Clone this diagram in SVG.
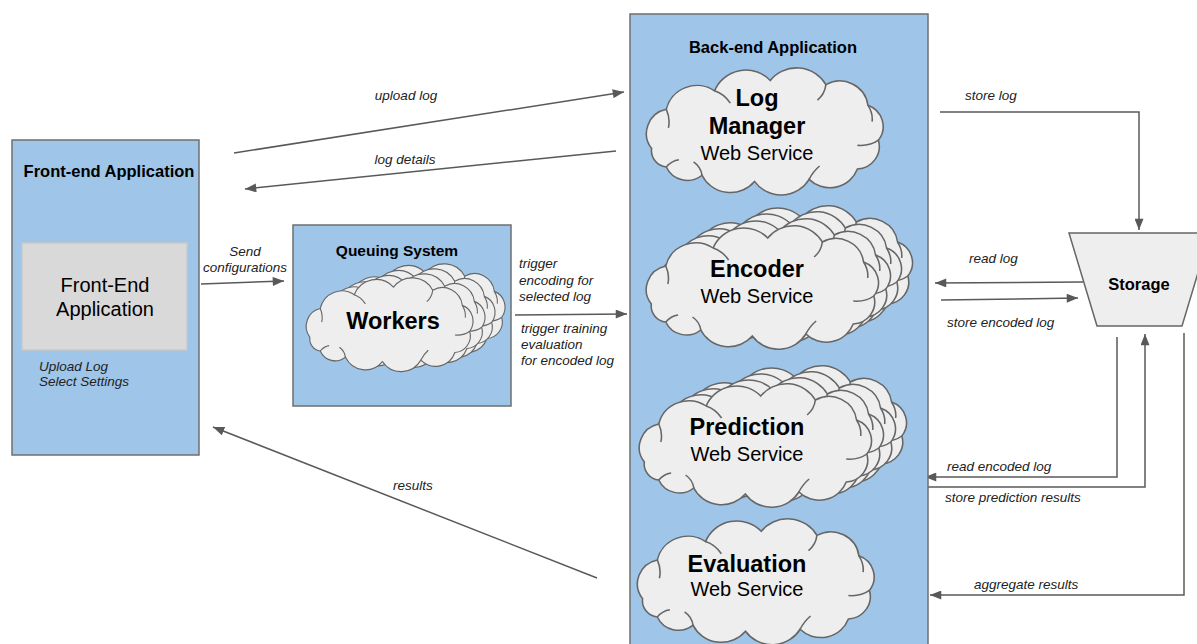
<svg xmlns="http://www.w3.org/2000/svg" xmlns:xlink="http://www.w3.org/1999/xlink" width="1197" height="644" viewBox="0 0 1197 644">
  <style>
    .box { fill: #9fc5e8; stroke: #6f6f6f; stroke-width: 1.5; }
    .inner { fill: #d9d9d9; stroke: #c8c8c8; stroke-width: 1.5; }
    .cloud { fill: #eeeeee; stroke: #666666; stroke-width: 1.5; }
    .cloudline { fill: none; stroke: #666666; stroke-width: 1.5; }
    .store { fill: #eeeeee; stroke: #666666; stroke-width: 1.5; }
    .conn { fill: none; stroke: #595959; stroke-width: 1.5; marker-end: url(#ah); }
    .title { font-family: "Liberation Sans", Arial, sans-serif; font-weight: bold; font-size: 16.5px; fill: #000; text-anchor: middle; }
    .big { font-family: "Liberation Sans", Arial, sans-serif; font-weight: bold; font-size: 23.5px; fill: #000; text-anchor: middle; }
    .sub { font-family: "Liberation Sans", Arial, sans-serif; font-size: 20px; fill: #000; text-anchor: middle; }
    .lbl { font-family: "Liberation Sans", Arial, sans-serif; font-style: italic; font-size: 13.5px; fill: #222; }
  </style>
  <defs>
    <marker id="ah" viewBox="0 0 10 8" refX="10" refY="4" markerWidth="12" markerHeight="9" markerUnits="userSpaceOnUse" orient="auto">
      <path d="M0,0 L10,4 L0,8 z" fill="#595959"/>
    </marker>
    <!-- cloud outline in a 240x125 box -->
    <g id="cloud">
      <path class="cloud" d="M12,82 A24,24 0 0 1 26,44 A30,30 0 0 1 72,26 A32,32 0 0 1 125,16 A32,32 0 0 1 178,20 A27,27 0 0 1 218,40 A22,22 0 0 1 228,74 A22,22 0 0 1 208,102 A28,28 0 0 1 162,112 A31,31 0 0 1 110,114 A30,30 0 0 1 60,108 A22,22 0 0 1 26,100 A16,16 0 0 1 12,82 Z"/>
      <path class="cloudline" d="M26,44 Q30,53 28,62 M72,26 Q81,29 87,38 M178,20 Q177,29 170,35 M218,40 Q223,48 222,56 M228,74 Q220,80 208,79 M162,112 Q166,104 172,99 M60,108 Q59,100 52,95 M26,100 Q31,94 38,93"/>
    </g>
  </defs>

  <!-- connectors -->
  <g id="connectors">
    <path class="conn" d="M234,153 L624,92"/>
    <path class="conn" d="M616,151 L245,189"/>
    <path class="conn" d="M201,284 L284,281"/>
    <path class="conn" d="M515,315 L627,314"/>
    <path class="conn" d="M597,578 L213,427"/>
    <path class="conn" d="M940,112 L1139,112 L1139,230"/>
    <path class="conn" d="M1083,282 L935,283"/>
    <path class="conn" d="M941,300 L1078,298"/>
    <path class="conn" d="M1117,337 L1117,477 L925,477"/>
    <path class="conn" d="M924,487 L1145,487 L1145,334"/>
    <path class="conn" d="M1184,333 L1184,595 L930,595"/>
  </g>

  <!-- front-end application -->
  <g id="frontend">
    <rect class="box" x="12" y="140" width="187" height="315"/>
    <text class="title" x="109" y="177">Front-end Application</text>
    <rect class="inner" x="22" y="243" width="165" height="107"/>
    <text class="sub" x="105" y="292">Front-End</text>
    <text class="sub" x="105" y="316">Application</text>
    <text class="lbl" x="39" y="371">Upload Log</text>
    <text class="lbl" x="39" y="386">Select Settings</text>
  </g>

  <!-- queuing system with worker pool -->
  <g id="queue">
    <rect class="box" x="293" y="225" width="218" height="181"/>
    <text class="title" x="397" y="256" style="font-size:15.5px">Queuing System</text>
    <use xlink:href="#cloud" transform="translate(333,261) scale(0.74,0.76)"/>
    <use xlink:href="#cloud" transform="translate(323,266) scale(0.74,0.76)"/>
    <use xlink:href="#cloud" transform="translate(313,271) scale(0.74,0.76)"/>
    <use xlink:href="#cloud" transform="translate(301,275) scale(0.74,0.76)"/>
    <text class="big" x="393" y="329">Workers</text>
  </g>

  <!-- back-end application -->
  <g id="backend">
    <rect class="box" x="630" y="14" width="298" height="640"/>
    <text class="title" x="773" y="53">Back-end Application</text>
  </g>

  <g id="logmanager">
    <use xlink:href="#cloud" transform="translate(639,64) scale(1.05,1.03)"/>
    <text class="big" x="757" y="106">Log</text>
    <text class="big" x="757" y="134">Manager</text>
    <text class="sub" x="757" y="160">Web Service</text>
  </g>

  <g id="encoder">
    <use xlink:href="#cloud" transform="translate(673,202) scale(1.03,1)"/>
    <use xlink:href="#cloud" transform="translate(662,208) scale(1.03,1)"/>
    <use xlink:href="#cloud" transform="translate(651,215) scale(1.03,1)"/>
    <use xlink:href="#cloud" transform="translate(639,222) scale(1.03,1)"/>
    <text class="big" x="757" y="277">Encoder</text>
    <text class="sub" x="757" y="303">Web Service</text>
  </g>

  <g id="prediction">
    <use xlink:href="#cloud" transform="translate(667,362) scale(1.03,1)"/>
    <use xlink:href="#cloud" transform="translate(656,368) scale(1.03,1)"/>
    <use xlink:href="#cloud" transform="translate(644,374) scale(1.03,1)"/>
    <use xlink:href="#cloud" transform="translate(632,380) scale(1.03,1)"/>
    <text class="big" x="747" y="435">Prediction</text>
    <text class="sub" x="747" y="461">Web Service</text>
  </g>

  <g id="evaluation">
    <use xlink:href="#cloud" transform="translate(630,515) scale(1.05,1.02)"/>
    <text class="big" x="747" y="572">Evaluation</text>
    <text class="sub" x="747" y="596">Web Service</text>
  </g>

  <!-- storage -->
  <g id="storage">
    <path class="store" d="M1069,233 L1210,233 L1182,326 L1097,326 Z"/>
    <text class="title" x="1139" y="290">Storage</text>
  </g>

  <!-- connector labels -->
  <g id="labels">
    <text class="lbl" x="406" y="100" text-anchor="middle">upload log</text>
    <text class="lbl" x="405" y="164" text-anchor="middle">log details</text>
    <text class="lbl" x="245" y="256" text-anchor="middle">Send</text>
    <text class="lbl" x="245" y="272" text-anchor="middle">configurations</text>
    <text class="lbl" x="519" y="268">trigger</text>
    <text class="lbl" x="519" y="285">encoding for</text>
    <text class="lbl" x="519" y="301">selected log</text>
    <text class="lbl" x="521" y="333">trigger training</text>
    <text class="lbl" x="521" y="349">evaluation</text>
    <text class="lbl" x="521" y="365">for encoded log</text>
    <text class="lbl" x="413" y="490" text-anchor="middle">results</text>
    <text class="lbl" x="965" y="100">store log</text>
    <text class="lbl" x="969" y="263">read log</text>
    <text class="lbl" x="947" y="327">store encoded log</text>
    <text class="lbl" x="947" y="471">read encoded log</text>
    <text class="lbl" x="945" y="502">store prediction results</text>
    <text class="lbl" x="974" y="589">aggregate results</text>
  </g>
</svg>
